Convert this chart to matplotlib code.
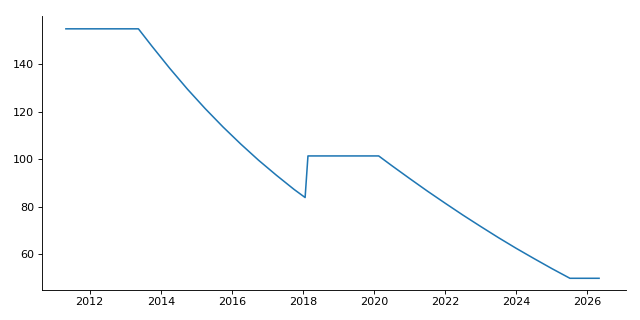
import matplotlib
matplotlib.use("Agg")
import matplotlib.pyplot as plt

# values (fractional years)
years = [
    2011.33, 2013.37,
    2013.75, 2014.25, 2014.75, 2015.25, 2015.75, 2016.25, 2016.75, 2017.25, 2017.75, 2018.06,
    2018.14, 2020.13,
    2020.50, 2021.00, 2021.50, 2022.00, 2022.50, 2023.00, 2023.50, 2024.00, 2024.50, 2025.00,
    2025.51, 2026.33,
]
values = [
    154.9, 154.9,
    147.6, 138.3, 129.5, 121.3, 113.6, 106.4, 99.6, 93.3, 87.3, 83.9,
    101.4, 101.4,
    97.3, 91.9, 86.6, 81.5, 76.5, 71.7, 67.0, 62.5, 58.2, 54.0,
    49.9, 49.9,
]

fig = plt.figure(figsize=(8, 4), dpi=80)
ax = fig.add_axes([0.0652, 0.0947, 0.9125, 0.8553])
ax.plot(years, values, color='#1f77b4', linewidth=1.4)

ax.spines['top'].set_visible(False)
ax.spines['right'].set_visible(False)
ax.set_xlim(2010.65, 2027.08)
ax.set_ylim(45.1, 160.3)
ax.set_xticks([2012, 2014, 2016, 2018, 2020, 2022, 2024, 2026])
ax.set_yticks([60, 80, 100, 120, 140])

fig.savefig('out.png', dpi=80)
